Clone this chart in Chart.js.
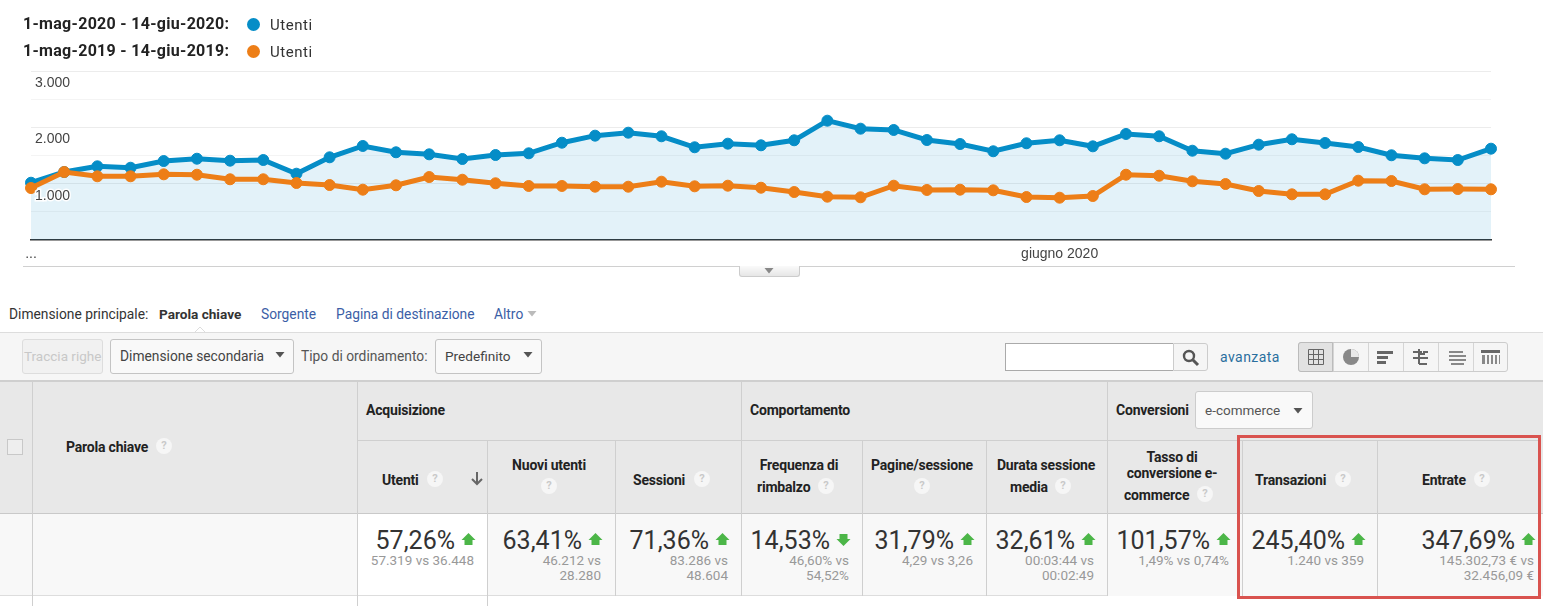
<!DOCTYPE html>
<html lang="it">
<head>
<meta charset="utf-8">
<title>Utenti</title>
<script src="https://cdn.jsdelivr.net/npm/chart.js@4/dist/chart.umd.min.js"></script>
<style>
html,body{margin:0;padding:0;background:#fff;}
#page{position:relative;width:1543px;height:606px;overflow:hidden;font-family:Roboto,sans-serif;background:#fff;}
canvas#c{position:absolute;left:0;top:0;}
.t{position:absolute;white-space:nowrap;line-height:1;}
.b{position:absolute;box-sizing:border-box;}
.q{position:absolute;width:16px;height:16px;margin:-8px 0 0 -8px;border-radius:50%;background:#f6f6f6;color:#c9c9c9;font:bold 11px/16px Roboto,sans-serif;text-align:center;}
svg.o{position:absolute;left:0;top:0;}
</style>
</head>
<body>
<div id="page"><canvas id="c" width="1543" height="270"></canvas></div>
<script>
// ---- chart data ----
const days = ['1 mag','2 mag','3 mag','4 mag','5 mag','6 mag','7 mag','8 mag','9 mag','10 mag','11 mag','12 mag','13 mag','14 mag','15 mag','16 mag','17 mag','18 mag','19 mag','20 mag','21 mag','22 mag','23 mag','24 mag','25 mag','26 mag','27 mag','28 mag','29 mag','30 mag','31 mag','1 giu','2 giu','3 giu','4 giu','5 giu','6 giu','7 giu','8 giu','9 giu','10 giu','11 giu','12 giu','13 giu','14 giu'];
const utenti2020 = [1017,1207,1308,1283,1402,1443,1408,1420,1177,1468,1669,1557,1521,1438,1509,1539,1727,1852,1905,1841,1646,1710,1681,1770,2118,1976,1953,1775,1704,1575,1717,1770,1663,1882,1841,1585,1532,1692,1788,1722,1651,1504,1450,1420,1621];
const utenti2019 = [923,1207,1131,1131,1166,1159,1078,1078,1012,976,893,971,1118,1070,1007,959,959,946,946,1035,953,964,928,852,769,758,964,888,893,882,763,751,781,1159,1141,1042,994,870,811,811,1053,1047,900,905,900];
const xTickDays = ['1 mag','1 giu'];
const xTickLabels = ['...','giugno 2020'];
const yTickValues = [1000,2000,3000];
const yTickLabels = ['1.000','2.000','3.000'];
const legendRanges = ['1-mag-2020 - 14-giu-2020:','1-mag-2019 - 14-giu-2019:'];
const legendMetric = 'Utenti';
const BLUE='#058dc7', ORANGE='#ed7e17';

// ---- table data ----
const metricPct = ['57,26%','63,41%','71,36%','14,53%','31,79%','32,61%','101,57%','245,40%','347,69%'];
const metricDir = ['up','up','up','down','up','up','up','up','up'];
const metricDetail = [['57.319 vs 36.448'],['46.212 vs','28.280'],['83.286 vs','48.604'],['46,60% vs','54,52%'],['4,29 vs 3,26'],['00:03:44 vs','00:02:49'],['1,49% vs 0,74%'],['1.240 vs 359'],['145.302,73 € vs','32.456,09 €']];

new Chart(document.getElementById('c'),{
  type:'line',
  data:{labels:days,datasets:[
    {label:legendRanges[0],data:utenti2020,borderColor:BLUE,backgroundColor:'rgba(5,141,199,0.115)',fill:'origin',order:2,
     pointBackgroundColor:BLUE,pointBorderColor:BLUE},
    {label:legendRanges[1],data:utenti2019,borderColor:ORANGE,fill:false,order:1,
     pointBackgroundColor:ORANGE,pointBorderColor:ORANGE}
  ]},
  options:{
    responsive:false,animation:false,
    layout:{padding:{left:31,right:52,top:71,bottom:0}},
    datasets:{line:{borderWidth:5,tension:0,pointRadius:5.5,pointBorderWidth:1,clip:false}},
    plugins:{legend:{display:false},tooltip:{enabled:false}},
    scales:{
      x:{
        grid:{display:false},
        border:{color:'#333',width:1.5},
        afterFit(s){s.height=30;},
        ticks:{autoSkip:false,maxRotation:0,minRotation:0,padding:-2,color:'#444',font:{family:'"Liberation Sans",Arial,sans-serif',size:14},
          callback(v){const i=xTickDays.indexOf(days[v]);return i<0?'':xTickLabels[i];}}
      },
      y:{
        min:0,max:3000,
        border:{display:false},
        afterFit(s){s.width=0;},
        grid:{drawTicks:false,tickLength:0,lineWidth:1,color(c){const v=c.tick.value;return v===0?'rgba(0,0,0,0)':(v%1000===0?'#ececec':'#f4f4f4');}},
        ticks:{stepSize:500,mirror:true,padding:4,labelOffset:12,z:1,color:'#444',textStrokeColor:'rgba(255,255,255,0.95)',textStrokeWidth:3,
          font:{family:'"Liberation Sans",Arial,sans-serif',size:14},
          callback(v){const i=yTickValues.indexOf(v);return i<0?'':yTickLabels[i];}}
      }
    }
  }
});

// ---- page furniture ----
const page=document.getElementById('page');
function T(x,y,s,o={}){
  const d=document.createElement('div');d.className='t';d.textContent=s;
  d.style.left=x+'px';d.style.top=y+'px';
  const ax=o.a==='r'?'-100%':o.a==='c'?'-50%':'0';
  d.style.transform=`translate(${ax},-50%)`;
  d.style.fontSize=(o.s||13)+'px';d.style.color=o.c||'#333';
  if(o.w)d.style.fontWeight=o.w;
  if(o.ls)d.style.letterSpacing=o.ls+'px';
  if(o.f)d.style.fontFamily=o.f;
  page.appendChild(d);return d;
}
function B(x,y,w,h,css={}){
  const d=document.createElement('div');d.className='b';
  Object.assign(d.style,{left:x+'px',top:y+'px',width:w+'px',height:h+'px'},css);
  page.appendChild(d);return d;
}
function Q(x,y){const d=document.createElement('div');d.className='q';d.textContent='?';d.style.left=x+'px';d.style.top=y+'px';page.appendChild(d);}

// legend
[[24,BLUE],[51,ORANGE]].forEach(([y,col],i)=>{
  T(23,y,legendRanges[i],{s:16,w:700,c:'#222',ls:0.3});
  B(247,y-6.5,13,13,{background:col,borderRadius:'50%'});
  T(270,y+0.5,legendMetric,{s:15,c:'#333',ls:0.55});
});

// separator + handle
B(23,266,1492,1,{background:'#d0d0d0'});
B(739,266,61,11,{background:'linear-gradient(#fafafa,#e6e6e6)',border:'1px solid #ccc',borderTop:'none',borderRadius:'0 0 3px 3px'});

// dimension tabs
T(9,314.5,'Dimensione principale:',{s:13.8,c:'#333'});
T(159,314.5,'Parola chiave',{s:13.6,w:700,c:'#333'});
T(261,314.5,'Sorgente',{s:13.8,c:'#3b5ea6'});
T(336,314.5,'Pagina di destinazione',{s:13.8,c:'#3b5ea6'});
T(494,314.5,'Altro',{s:13.8,c:'#3b5ea6'});

// toolbar
B(0,332,1543,48,{background:'#f6f6f6',borderTop:'1px solid #ddd'});
B(22,339,81,35,{background:'#f1f1f1',border:'1px solid #ddd',borderRadius:'3px'});
T(24,356.5,'Traccia righe',{s:13.5,c:'#c8c8c8'});
B(110,339,184,35,{background:'#f9f9f9',border:'1px solid #c4c4c4',borderRadius:'3px'});
T(120,356.5,'Dimensione secondaria',{s:13.8,c:'#444'});
T(301,356.5,'Tipo di ordinamento:',{s:13.8,c:'#555'});
B(435,339,107,35,{background:'#f9f9f9',border:'1px solid #c4c4c4',borderRadius:'3px'});
T(445,356.5,'Predefinito',{s:13.6,c:'#444'});
B(1005,343,168,28,{background:'#fff',border:'1px solid #aaa',borderRight:'none'});
B(1173,343,35,28,{background:'#f5f5f5',border:'1px solid #ccc',borderRadius:'0 3px 3px 0'});
T(1220,357,'avanzata',{s:14,c:'#2a6f9e',ls:0.45});
B(1298,342,210,30,{background:'#f5f5f5',border:'1px solid #ccc',borderRadius:'3px'});
B(1298,342,35,30,{background:'#e2e2e2',border:'1px solid #bbb',borderRadius:'3px 0 0 3px'});
[1333,1368,1403,1438,1473].forEach(x=>B(x,343,1,28,{background:'#d5d5d5'}));

// table head
B(0,380,1543,134,{background:'#e8e8e8',borderTop:'2px solid #cfcfcf'});
B(0,514,1543,82,{background:'#f8f8f8'});
B(357,514,130,82,{background:'#fff'});
B(0,513,1543,1,{background:'#c9c9c9'});
B(0,595,1107,1,{background:'#ddd'});
B(357,440,1183,1,{background:'#cfcfcf'});
[32,357,487,741,1107].forEach(x=>B(x,382,1,x===32||x===357||x===487?224:214,{background:'#cfcfcf'}));
[615,862,986,1242,1377].forEach(x=>B(x,440,1,156,{background:'#cfcfcf'}));
B(487,382,1,58,{background:'#e8e8e8'});
B(7,439,16,16,{background:'#eeeeee',border:'1px solid #c8c8c8'});

const H={s:14,w:700,c:'#222',ls:-0.2};
T(66,447,'Parola chiave',H);Q(164,446);
T(366,410,'Acquisizione',H);T(750,410,'Comportamento',H);T(1116,410,'Conversioni',H);
B(1195,391,118,38,{background:'#f9f9f9',border:'1px solid #ccc',borderRadius:'3px'});
T(1205,411,'e-commerce',{s:13.5,c:'#555'});
T(382,480,'Utenti',H);Q(435,479);
T(549,465,'Nuovi utenti',{...H,a:'c'});Q(549,486);
T(633,480,'Sessioni',H);Q(702,479);
T(799,465,'Frequenza di',{...H,a:'c'});T(757,487,'rimbalzo',H);Q(826,486);
T(922,465,'Pagine/sessione',{...H,a:'c'});Q(922,486);
T(1046,465,'Durata sessione',{...H,a:'c'});T(1010,487,'media',H);Q(1063,486);
T(1172,457,'Tasso di',{...H,a:'c'});T(1172,473,'conversione e-',{...H,a:'c'});T(1124,495,'commerce',H);Q(1205,494);
T(1255,480,'Transazioni',H);Q(1343,479);
T(1422,480,'Entrate',H);Q(1482,479);

// metric cells
const smallRight=[474,601,728,849,973,1094,1229,1364,1534];
metricPct.forEach((p,i)=>{
  const r=smallRight[i];
  T(r-19,540,p,{a:'r',s:25,c:'#333',w:400});
  metricDetail[i].forEach((l,j)=>T(r,560.5+j*15,l,{a:'r',s:13.5,c:'#999'}));
});

// vector overlay: carets, arrows, icons, red frame
const NS='http://www.w3.org/2000/svg';
const svg=document.createElementNS(NS,'svg');svg.setAttribute('class','o');svg.setAttribute('width',1543);svg.setAttribute('height',606);
let m='';
const caret=(x,y,c='#555')=>`<path d="M${x-4.5} ${y-3}h9l-4.5 5.5z" fill="${c}"/>`;
m+=caret(280,355)+caret(528,355)+caret(1298,411)+caret(532,314,'#bbb')+caret(769,271,'#888');
m+=`<path d="M195 332l5-5 5 5" fill="#fff" stroke="#ddd"/>`;
// arrows in table
smallRight.forEach((r,i)=>{
  const x=r-5.5;
  m+=metricDir[i]==='up'
    ?`<path d="M${x} 533l7 7h-3v5h-8v-5h-3z" fill="#4cb648"/>`
    :`<path d="M${x} 546l7-7h-3v-5h-8v5h-3z" fill="#4cb648"/>`;
});
// sort arrow
m+=`<path d="M477 472v12M472 479l5 5 5-5" fill="none" stroke="#666" stroke-width="2"/>`;
// search icon
m+=`<circle cx="1189" cy="356" r="5" fill="none" stroke="#555" stroke-width="2.4"/><path d="M1193 360l5 5" stroke="#555" stroke-width="3"/>`;
// view icons
m+=`<path d="M1308.5 349.5h15v15h-15zM1313.5 349.5v15M1318.5 349.5v15M1308.5 354.5h15M1308.5 359.5h15" fill="none" stroke="#666"/>`;
m+=`<circle cx="1351" cy="357" r="8" fill="#888"/><path d="M1351 349a8 8 0 0 1 8 8h-8z" fill="#e8e8e8"/>`;
m+=`<path d="M1377 351h16v3h-16zM1377 356h11v3h-11zM1377 361h9v3h-9z" fill="#666"/>`;
m+=`<path d="M1413 352h8v2h3v-2h4M1419 349v15M1413 358h15M1419 364h8" fill="none" stroke="#666" stroke-width="2"/>`;
m+=`<path d="M1449 351h14v2h-14zM1449 355h17v2h-17zM1449 359h17v2h-17zM1451 363h13v2h-13z" fill="#888"/>`;
m+=`<path d="M1481 350h19v3h-19z" fill="#666"/><path d="M1482 355h3v9h-3zM1487 355h2v9h-2zM1491 355h2v9h-2zM1495 355h2v9h-2zM1499 355h1v9h-1z" fill="#888"/>`;
// highlight frame
m+=`<rect x="1238.5" y="436.5" width="301" height="161" fill="none" stroke="#d9534f" stroke-width="3"/>`;
svg.innerHTML=m;page.appendChild(svg);
</script>
</body>
</html>
